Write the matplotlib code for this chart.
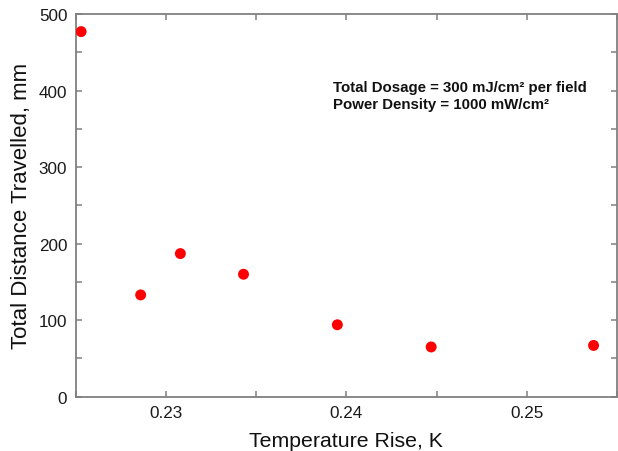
import matplotlib
matplotlib.use("Agg")
import matplotlib.pyplot as plt
from matplotlib.ticker import MultipleLocator

plt.rcParams['font.family'] = ['Liberation Sans', 'DejaVu Sans']

temperature_rise = [0.2253, 0.2286, 0.2308, 0.2343, 0.2395, 0.2447, 0.2537]
distance = [477, 133, 187, 160, 94, 65, 67]
annotation_lines = ["Total Dosage = 300 mJ/cm\u00b2 per field",
                    "Power Density = 1000 mW/cm\u00b2"]

fig = plt.figure(figsize=(6.18, 4.52), dpi=100)
ax = fig.add_axes([0.1225, 0.1201, 0.8759, 0.8467])

ax.scatter(temperature_rise, distance, s=62, color='#ff0000', edgecolors='none', zorder=3)

ax.set_xlim(0.225, 0.255)
ax.set_ylim(0, 500)
ax.xaxis.set_major_locator(MultipleLocator(0.01))
ax.xaxis.set_minor_locator(MultipleLocator(0.005))
ax.yaxis.set_major_locator(MultipleLocator(100))
ax.yaxis.set_minor_locator(MultipleLocator(50))
ax.xaxis.set_major_formatter(plt.FuncFormatter(lambda v, p: f"{v:.2f}"))

for side in ax.spines.values():
    side.set_color('#808080')
    side.set_linewidth(1.3)

ax.tick_params(which='both', direction='in', length=4, width=1.1, color='#808080',
               top=True, right=True, labelsize=12.3, labelcolor='#1a1a1a', pad=6)

ax.set_xlabel("Temperature Rise, K", fontsize=15.3, color='#111111', labelpad=8)
ax.set_ylabel("Total Distance Travelled, mm", fontsize=16, color='#111111', labelpad=5)

ax.text(0.4753, 0.809, annotation_lines[0], transform=ax.transAxes, fontsize=10.8,
        fontweight='bold', va='center', ha='left', color='#111111')
ax.text(0.4753, 0.764, annotation_lines[1], transform=ax.transAxes, fontsize=10.8,
        fontweight='bold', va='center', ha='left', color='#111111')

fig.savefig("out.png", dpi=100)
